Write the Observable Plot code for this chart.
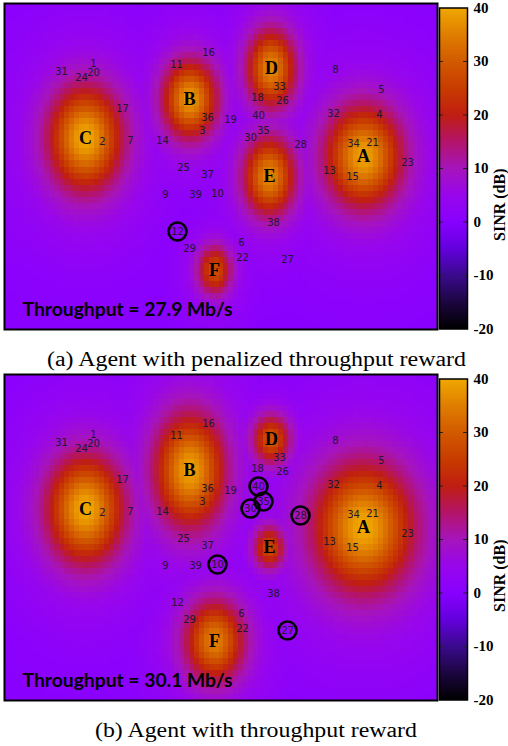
<!DOCTYPE html>
<html><head><meta charset="utf-8">
<script src="https://cdn.jsdelivr.net/npm/d3@7"></script>
<script src="https://cdn.jsdelivr.net/npm/@observablehq/plot@0.6"></script>
<style>
body{margin:0;background:#fff;}
#root{position:relative;width:508px;height:746px;overflow:hidden;}
#root > *{position:absolute;overflow:visible;}
</style></head><body><div id="root"></div>
<script>
// ---------- data ----------
const areaWidth = 433, areaHeight = 326;
const stationNames = ["A","B","C","D","E","F"];
const stationX = [359,185,81,267,265,210];
const stationY = [153,96,135,65,173,267];
// panel (a): peak SINR (dB) and spread of each cell
const peakA = [39,38,40,36,36,28];
const spreadXA = [25,18,24,16,17,12];
const spreadYA = [33,26,34,26,26,17];
const haloA = [9,8,9,8,8,6];
// panel (b)
const peakB = [40,39,40,29,27,35];
const spreadXB = [32,23,25,13,11,20];
const spreadYB = [41,37,35,17,15,27];
const haloB = [10,9,9,6,5,8];

const userIds = d3.range(1, 41);
const userX = [89,98,198,375,377,237,126,331,161,213,172,173,325,158,348,204,118,253,226,89,368,238,403,77,179,278,283,296,185,246,57,329,275,349,259,203,203,269,191,254];
const userY = [60,138,127,111,86,239,137,66,191,190,61,228,167,137,173,49,105,94,116,69,139,254,159,74,164,97,256,141,245,134,68,110,83,140,127,114,171,219,191,112];
const circledA = [12];
const circledB = [40,35,30,28,10,27];
const throughputA = "27.9";
const throughputB = "30.1";
const captionA = "(a) Agent with penalized throughput reward";
const captionB = "(b) Agent with throughput reward";
const colorTicks = [-20,-10,0,10,20,30,40];
const paletteValues = [-20,-15,-10,-5,0,5,10,15,20,25,30,35,40];
const paletteColors = ["#000000","#1c0640","#3a0a8c","#6400de","#8800ff","#9806ec","#a614bc","#b4146a","#c01e12","#c83c00","#d25a00","#e07e00","#f0a800"];

// ---------- helpers ----------
const interp = d3.scaleLinear().domain(paletteValues).range(paletteColors).interpolate(d3.interpolateRgb).clamp(true);
const colorScale = {type: "linear", domain: [-20, 40], interpolate: t => interp(-20 + 60 * t), clamp: true};

function sinrField(peak, sx, sy, halo) {
  return (x, y) => {
    const T = stationX.map((X, i) => {
      const dx = x - X, dy = (y - stationY[i]) * 0.75;
      return sx[i] * sy[i] / Math.pow(dx * dx + dy * dy + 400, 1.75);
    });
    const tot = d3.sum(T), best = d3.max(T);
    const s = 10 * Math.log10(best / (tot - best));
    const bg = Math.max(-2.5, Math.min(9, 0.45 * s - 2));
    let core = -Infinity;
    stationX.forEach((X, i) => {
      const qx = (x - X) / sx[i], qy = (y - stationY[i]) / sy[i];
      const q = (qx * qx + qy * qy) / 2;
      core = Math.max(core, (peak[i] - halo[i]) * Math.exp(-q) + halo[i] * Math.exp(-q / 5));
    });
    return Math.max(bg, core);
  };
}

const users = userIds.map((id, i) => ({id, x: userX[i], y: userY[i]}));
const stations = stationNames.map((n, i) => ({n, x: stationX[i], y: stationY[i]}));
const root = document.getElementById("root");

function panel(top, peak, sx, sy, halo, circled, thr) {
  const heat = Plot.plot({
    width: areaWidth + 4, height: areaHeight + 4,
    marginTop: 2, marginBottom: 2, marginLeft: 2, marginRight: 2,
    x: {domain: [0, areaWidth], axis: null},
    y: {domain: [0, areaHeight], reverse: true, axis: null},
    color: colorScale,
    marks: [
      Plot.raster({x1: 0, y1: 0, x2: areaWidth, y2: areaHeight, width: 87, height: 54,
        fill: sinrField(peak, sx, sy, halo), imageRendering: "pixelated"}),
      Plot.text(users, {x: "x", y: "y", text: "id", fontSize: 10, fontFamily: "DejaVu Sans", fill: "#221830"}),
      Plot.dot(users.filter(d => circled.includes(d.id)), {x: "x", y: "y", r: 9, stroke: "black", strokeWidth: 2.6, fill: "none"}),
      Plot.text(stations, {x: "x", y: "y", text: "n", fontSize: 18, fontFamily: "Liberation Serif", fontWeight: "bold", fill: "black"}),
      Plot.text([`Throughput = ${thr} Mb/s`], {frameAnchor: "bottom-left", dx: 18, dy: -19, lineAnchor: "middle", textAnchor: "start",
        fontFamily: "Lato", fontWeight: "bold", fontSize: 18, fill: "black", className: "thr"}),
      Plot.frame({stroke: "black", strokeWidth: 2})
    ]
  });
  heat.style.left = "2px"; heat.style.top = (top - 2) + "px";
  d3.select(heat).selectAll(".thr text").attr("textLength", 210).attr("lengthAdjust", "spacingAndGlyphs");
  root.appendChild(heat);

  const bar = Plot.plot({
    width: 71, height: 336,
    marginLeft: 2, marginRight: 41, marginTop: 7.5, marginBottom: 7.5,
    x: {domain: [0, 1], axis: null},
    y: {domain: [-20, 40], axis: null},
    color: colorScale,
    marks: [
      Plot.raster({x1: 0, x2: 1, y1: -20, y2: 40, width: 1, height: 240, fill: (x, y) => y}),
      Plot.ruleY(colorTicks.slice(1, -1), {x1: 0, x2: 0.14, stroke: "#222", strokeWidth: 1}),
      Plot.ruleY(colorTicks.slice(1, -1), {x1: 0.86, x2: 1, stroke: "#222", strokeWidth: 1}),
      Plot.axisY(colorTicks, {anchor: "right", tickSize: 0, tickPadding: 6, tickFormat: d => String(d),
        fontSize: 15, fontFamily: "Liberation Serif", fontWeight: "bold", fill: "black", label: null}),
      Plot.text(["SINR (dB)"], {frameAnchor: "right", dx: 32, rotate: -90, fontSize: 16, fontFamily: "Liberation Serif", fontWeight: "bold", fill: "black"}),
      Plot.frame({stroke: "black", strokeWidth: 1.5})
    ]
  });
  bar.style.left = "437px"; bar.style.top = (top - 3) + "px";
  root.appendChild(bar);
}

panel(3, peakA, spreadXA, spreadYA, haloA, circledA, throughputA);
panel(374, peakB, spreadXB, spreadYB, haloB, circledB, throughputB);

// captions
const cap = d3.create("svg").attr("width", 508).attr("height", 746).style("left", "0px").style("top", "0px").style("pointer-events", "none");
[[captionA, 256.5, 366, 419], [captionB, 256, 737, 322]].forEach(([t, x, y, len]) => {
  cap.append("text").attr("x", x).attr("y", y).attr("text-anchor", "middle")
    .attr("font-family", "Liberation Serif").attr("font-size", 20).attr("fill", "black")
    .attr("textLength", len).attr("lengthAdjust", "spacingAndGlyphs").text(t);
});
root.appendChild(cap.node());
</script></body></html>
